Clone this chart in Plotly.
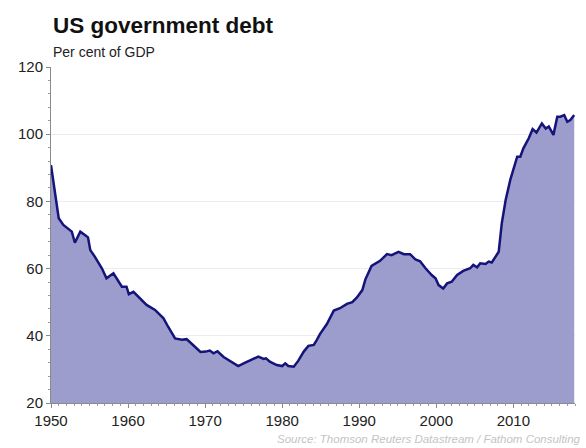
import plotly.graph_objects as go

years = [1950.0, 1950.5, 1951.0, 1951.6, 1952.2, 1952.7, 1953.1, 1953.8, 1954.4, 1954.8,
         1955.1, 1955.7, 1956.6, 1957.2, 1958.1, 1959.2, 1959.8, 1960.1, 1960.7, 1961.6,
         1962.4, 1963.5, 1964.6, 1965.2, 1966.1, 1967.0, 1967.6, 1968.5, 1969.4, 1970.1,
         1970.6, 1971.1, 1971.6, 1972.4, 1973.2, 1974.3, 1975.2, 1976.3, 1976.9, 1977.6,
         1977.9, 1978.4, 1979.3, 1980.0, 1980.4, 1980.8, 1981.5, 1982.1, 1982.8, 1983.4,
         1984.1, 1984.5, 1984.9, 1985.8, 1986.7, 1987.5, 1988.4, 1989.1, 1989.7, 1990.4,
         1990.8, 1991.6, 1992.7, 1993.6, 1994.2, 1995.1, 1995.8, 1996.6, 1997.3, 1997.9,
         1998.6, 1999.4, 1999.9, 2000.3, 2000.9, 2001.4, 2002.0, 2002.7, 2003.5, 2004.4,
         2004.8, 2005.3, 2005.7, 2006.4, 2006.8, 2007.2, 2007.7, 2008.1, 2008.5, 2009.0,
         2009.6, 2010.5, 2010.9, 2011.3, 2012.0, 2012.5, 2013.0, 2013.7, 2014.2, 2014.6,
         2015.2, 2015.7, 2016.1, 2016.6, 2017.0, 2017.4, 2017.9]
debt_pct = [90.8, 83.4, 75.0, 73.0, 71.8, 71.0, 67.7, 71.0, 70.0, 69.3,
            65.5, 63.5, 60.1, 57.1, 58.6, 54.6, 54.6, 52.4, 53.1, 51.1,
            49.2, 47.7, 45.2, 42.7, 39.2, 38.8, 39.0, 37.1, 35.2, 35.3,
            35.6, 34.8, 35.4, 33.7, 32.5, 31.0, 32.0, 33.3, 33.8, 33.1,
            33.3, 32.3, 31.3, 31.0, 31.8, 31.0, 30.8, 32.6, 35.3, 37.0,
            37.3, 38.8, 40.5, 43.5, 47.5, 48.2, 49.5, 50.0, 51.4, 53.6,
            56.8, 60.8, 62.3, 64.3, 64.0, 65.0, 64.3, 64.3, 62.7, 62.2,
            60.1, 58.1, 57.1, 55.1, 54.1, 55.6, 56.1, 58.1, 59.3, 60.1,
            61.1, 60.4, 61.6, 61.4, 62.1, 61.8, 63.5, 65.0, 73.5, 80.4,
            86.4, 93.3, 93.3, 95.8, 98.8, 101.5, 100.5, 103.2, 101.7, 102.3,
            99.8, 105.2, 105.2, 105.7, 103.7, 104.2, 105.7]

x_ticks = [1950, 1960, 1970, 1980, 1990, 2000, 2010]
y_ticks = [20, 40, 60, 80, 100, 120]

title = "US government debt"
subtitle = "Per cent of GDP"
source = "Source: Thomson Reuters Datastream / Fathom Consulting"

FONT = "Liberation Sans, Arial, sans-serif"

fig = go.Figure()
fig.add_trace(go.Scatter(
    x=years, y=debt_pct, mode="lines",
    line=dict(color="#14147a", width=2.5),
    fill="tozeroy", fillcolor="#9d9dcd",
    hoverinfo="skip",
))

fig.update_layout(
    width=586, height=448,
    margin=dict(l=51, r=11, t=67, b=45),
    paper_bgcolor="white", plot_bgcolor="white",
    showlegend=False,
    font=dict(family=FONT, color="#222222"),
    annotations=[
        dict(text="<b>" + title + "</b>", xref="paper", yref="paper",
             x=0.0, y=1.125, xanchor="left", yanchor="middle", showarrow=False,
             font=dict(size=22.5, color="#111111", family=FONT)),
        dict(text=subtitle, xref="paper", yref="paper",
             x=0.0, y=1.045, xanchor="left", yanchor="middle", showarrow=False,
             font=dict(size=14, color="#222222", family=FONT)),
        dict(text="<i>" + source + "</i>", xref="paper", yref="paper",
             x=1.015, y=-0.108, xanchor="right", yanchor="middle", showarrow=False,
             font=dict(size=11.5, color="#c4c4c4", family=FONT)),
    ],
)

fig.update_xaxes(
    range=[1950, 2018], tickvals=x_ticks, ticktext=[str(t) for t in x_ticks],
    showgrid=False, zeroline=False,
    showline=True, linecolor="#8a8a8a", linewidth=1,
    ticks="outside", ticklen=4, tickcolor="#8a8a8a",
    minor=dict(dtick=1, tick0=1950, ticks="outside", ticklen=2, tickcolor="#9a9a9a"),
    tickfont=dict(size=15, color="#222222", family=FONT),
)
fig.update_yaxes(
    range=[20, 120], tickvals=y_ticks,
    showgrid=True, gridcolor="#ececec", gridwidth=1, zeroline=False,
    showline=True, linecolor="#8a8a8a", linewidth=1,
    ticks="outside", ticklen=4, tickcolor="#8a8a8a",
    minor=dict(dtick=4, tick0=20, ticks="outside", ticklen=2, tickcolor="#9a9a9a", showgrid=False),
    tickfont=dict(size=15, color="#222222", family=FONT),
)

fig.write_html("out.html")
